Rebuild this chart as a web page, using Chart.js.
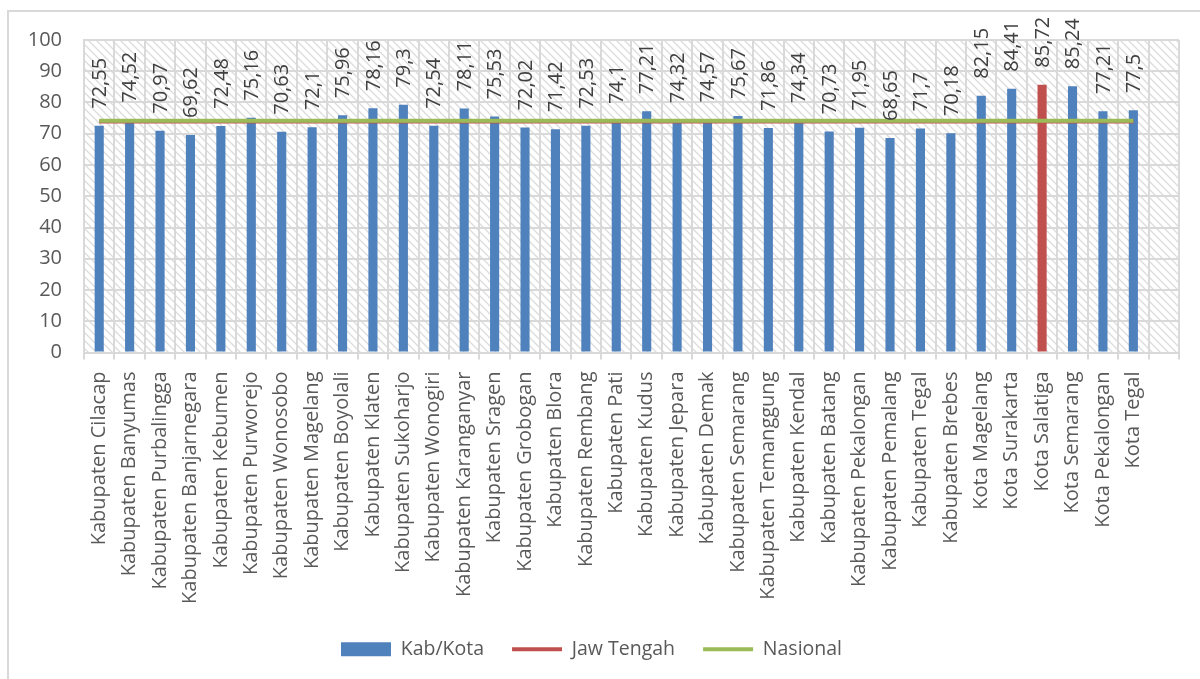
<!DOCTYPE html>
<html>
<head>
<meta charset="utf-8">
<script src="https://cdn.jsdelivr.net/npm/chart.js@4/dist/chart.umd.min.js"></script>
<style>
  html, body { margin: 0; padding: 0; background: #fff; overflow: hidden; }
  #wrap { position: relative; width: 1200px; height: 679px; }
  #frame { position: absolute; left: 7px; top: 10px; width: 1300px; height: 800px; border: 2px solid #d9d9d9; box-sizing: border-box; }
  #c { position: absolute; left: 0; top: 0; }
</style>
</head>
<body>
<div id="wrap">
  <div id="frame"></div>
  <canvas id="c" width="1200" height="679"></canvas>
</div>
<script>
const categories = [
  "Kabupaten Cilacap", "Kabupaten Banyumas", "Kabupaten Purbalingga", "Kabupaten Banjarnegara",
  "Kabupaten Kebumen", "Kabupaten Purworejo", "Kabupaten Wonosobo", "Kabupaten Magelang",
  "Kabupaten Boyolali", "Kabupaten Klaten", "Kabupaten Sukoharjo", "Kabupaten Wonogiri",
  "Kabupaten Karanganyar", "Kabupaten Sragen", "Kabupaten Grobogan", "Kabupaten Blora",
  "Kabupaten Rembang", "Kabupaten Pati", "Kabupaten Kudus", "Kabupaten Jepara",
  "Kabupaten Demak", "Kabupaten Semarang", "Kabupaten Temanggung", "Kabupaten Kendal",
  "Kabupaten Batang", "Kabupaten Pekalongan", "Kabupaten Pemalang", "Kabupaten Tegal",
  "Kabupaten Brebes", "Kota Magelang", "Kota Surakarta", "Kota Salatiga",
  "Kota Semarang", "Kota Pekalongan", "Kota Tegal", ""
];
const kabKota = [
  72.55, 74.52, 70.97, 69.62, 72.48, 75.16, 70.63, 72.1, 75.96, 78.16,
  79.3, 72.54, 78.11, 75.53, 72.02, 71.42, 72.53, 74.1, 77.21, 74.32,
  74.57, 75.67, 71.86, 74.34, 70.73, 71.95, 68.65, 71.7, 70.18, 82.15,
  84.41, 85.72, 85.24, 77.21, 77.5, null
];
const jawTengah = [
  73.9, 73.9, 73.9, 73.9, 73.9, 73.9, 73.9, 73.9, 73.9, 73.9,
  73.9, 73.9, 73.9, 73.9, 73.9, 73.9, 73.9, 73.9, 73.9, 73.9,
  73.9, 73.9, 73.9, 73.9, 73.9, 73.9, 73.9, 73.9, 73.9, 73.9,
  73.9, 73.9, 73.9, 73.9, 73.9, null
];
const nasional = [
  74.2, 74.2, 74.2, 74.2, 74.2, 74.2, 74.2, 74.2, 74.2, 74.2,
  74.2, 74.2, 74.2, 74.2, 74.2, 74.2, 74.2, 74.2, 74.2, 74.2,
  74.2, 74.2, 74.2, 74.2, 74.2, 74.2, 74.2, 74.2, 74.2, 74.2,
  74.2, 74.2, 74.2, 74.2, 74.2, null
];
const yTicks = [0, 10, 20, 30, 40, 50, 60, 70, 80, 90, 100];
const highlightCategory = "Kota Salatiga";

const BLUE = "#4f81bd", RED = "#c0504d", GREEN = "#9bbb59";
const GRID = "#d9d9d9";
const FONT = "'Open Sans', 'Noto Sans', sans-serif";

function makeHatch(ctx) {
  const p = document.createElement("canvas");
  p.width = 8; p.height = 8;
  const g = p.getContext("2d");
  g.fillStyle = "#ffffff"; g.fillRect(0, 0, 8, 8);
  g.strokeStyle = "#dcdcdc"; g.lineWidth = 1.3;
  g.beginPath();
  g.moveTo(-2, -2); g.lineTo(10, 10);
  g.moveTo(-10, -2); g.lineTo(2, 10);
  g.moveTo(6, -2); g.lineTo(18, 10);
  g.stroke();
  return ctx.createPattern(p, "repeat");
}

const hatchPlugin = {
  id: "hatch",
  beforeDraw(chart) {
    const { ctx, chartArea: a } = chart;
    ctx.save();
    ctx.fillStyle = makeHatch(ctx);
    ctx.fillRect(a.left, a.top, a.right - a.left, a.bottom - a.top);
    ctx.restore();
  }
};

const labelPlugin = {
  id: "barLabels",
  afterDatasetsDraw(chart) {
    const { ctx } = chart;
    const meta = chart.getDatasetMeta(chart.data.datasets.findIndex(d => d.type === "bar"));
    ctx.save();
    ctx.fillStyle = "#404040";
    ctx.font = "20px " + FONT;
    ctx.textAlign = "left";
    ctx.textBaseline = "middle";
    meta.data.forEach((el, i) => {
      const v = kabKota[i];
      if (v === null || v === undefined) return;
      const txt = String(v).replace(".", ",");
      ctx.save();
      ctx.translate(el.x + 1, el.y - 17);
      ctx.rotate(-Math.PI / 2);
      ctx.fillText(txt, 0, 0);
      ctx.restore();
    });
    ctx.restore();
  }
};

const barColors = categories.map(c => c === highlightCategory ? RED : BLUE);

new Chart(document.getElementById("c"), {
  data: {
    labels: categories,
    datasets: [
      { type: "line", label: "Nasional", data: nasional, borderColor: GREEN, backgroundColor: GREEN,
        borderWidth: 4, pointRadius: 0, order: 1 },
      { type: "line", label: "Jaw Tengah", data: jawTengah, borderColor: RED, backgroundColor: RED,
        borderWidth: 4, pointRadius: 0, order: 2 },
      { type: "bar", label: "Kab/Kota", data: kabKota, backgroundColor: barColors,
        barPercentage: 0.3, categoryPercentage: 1.0, order: 3 }
    ]
  },
  options: {
    responsive: false,
    animation: false,
    layout: { padding: { top: 40, left: 0, right: 17, bottom: 10 } },
    plugins: {
      tooltip: { enabled: false },
      legend: {
        position: "bottom",
        labels: {
          font: { family: FONT, size: 19.5 },
          color: "#595959",
          padding: 28,
          usePointStyle: true,
          pointStyleWidth: 50,
          boxHeight: 14,
          generateLabels(chart) {
            return [
              { text: "Kab/Kota", fillStyle: BLUE, strokeStyle: BLUE, lineWidth: 0, pointStyle: "rect", datasetIndex: 2, fontColor: "#595959" },
              { text: "Jaw Tengah", fillStyle: RED, strokeStyle: RED, lineWidth: 4, pointStyle: "line", datasetIndex: 1, fontColor: "#595959" },
              { text: "Nasional", fillStyle: GREEN, strokeStyle: GREEN, lineWidth: 4, pointStyle: "line", datasetIndex: 0, fontColor: "#595959" }
            ];
          }
        }
      }
    },
    scales: {
      x: {
        type: "category",
        offset: true,
        grid: { offset: true, color: GRID, lineWidth: 2, tickLength: 7 },
        border: { color: GRID, width: 2 },
        ticks: { autoSkip: false, minRotation: 90, maxRotation: 90, padding: 12,
                 color: "#595959", font: { family: FONT, size: 20 } },
        afterFit(scale) { scale.height = 259; }
      },
      y: {
        min: 0, max: 100,
        afterBuildTicks(scale) { scale.ticks = yTicks.map(v => ({ value: v })); },
        grid: { color: GRID, lineWidth: 2, drawTicks: false },
        border: { color: GRID, width: 2 },
        ticks: { padding: 22, color: "#595959", font: { family: FONT, size: 20 } },
        afterFit(scale) { scale.width = 84; }
      }
    }
  },
  plugins: [hatchPlugin, labelPlugin]
});
</script>
</body>
</html>
